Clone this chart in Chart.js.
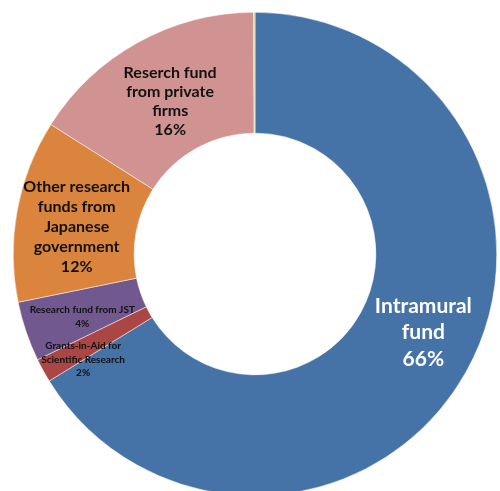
<!DOCTYPE html>
<html lang="en">
<head>
    <meta charset="UTF-8">
    <title>Research funds</title>
    <script src="https://cdn.jsdelivr.net/npm/chart.js@4.4.1/dist/chart.umd.min.js"></script>
    <style>
        html, body {
            margin: 0;
            padding: 0;
            background: #ffffff;
            overflow: hidden;
            width: 500px;
            height: 491px;
        }
        .chart-box {
            position: absolute;
            left: 0;
            top: 0;
            width: 510px;
            height: 508px;
        }
    </style>
</head>
<body>
    <div class="chart-box">
        <canvas id="fundChart"></canvas>
    </div>

    <script>
        // slices, clockwise from 12 o'clock
        const categories = [
            'Intramural fund',
            'Grants-in-Aid for Scientific Research',
            'Research fund from JST',
            'Other research funds from Japanese government',
            'Reserch fund from private firms',
            'Other'
        ];
        const shares = [66.2, 1.6, 4.0, 12.2, 15.9, 0.1];
        const labelLines = [
            ['Intramural', 'fund'],
            ['Grants-in-Aid for', 'Scientific Research'],
            ['Research fund from JST'],
            ['Other research', 'funds from', 'Japanese', 'government'],
            ['Reserch fund', 'from private', 'firms'],
            []
        ];
        const sliceColors = ['#4572A7', '#AA4643', '#71588F', '#DB843D', '#D19392', '#C9CF9C'];

        // label styling per slice: font size, line height, text colour, nudge
        const labelStyle = [
            { size: 21, lh: 26.5, color: '#ffffff', dx: 10, dy: -10 },
            { size: 10, lh: 13.5, color: '#111111', dx: -13, dy: 18 },
            { size: 10, lh: 14, color: '#111111', dx: -1, dy: 5 },
            { size: 16, lh: 20, color: '#111111', dx: 0, dy: 6 },
            { size: 16, lh: 19, color: '#111111', dx: 3, dy: 6 },
            null
        ];

        const sliceLabels = {
            id: 'sliceLabels',
            afterDatasetsDraw(chart) {
                const ctx = chart.ctx;
                const meta = chart.getDatasetMeta(0);
                meta.data.forEach((arc, i) => {
                    const st = labelStyle[i];
                    if (!st) return;
                    const lines = labelLines[i].concat([Math.round(shares[i]) + '%']);
                    const pos = arc.tooltipPosition();
                    const x = pos.x + st.dx;
                    let y = pos.y + st.dy - (lines.length - 1) * st.lh / 2;
                    ctx.save();
                    ctx.font = 'bold ' + st.size + 'px Lato, "Open Sans", sans-serif';
                    ctx.fillStyle = st.color;
                    ctx.textAlign = 'center';
                    ctx.textBaseline = 'middle';
                    lines.forEach(line => {
                        ctx.fillText(line, x, y);
                        y += st.lh;
                    });
                    ctx.restore();
                });
            }
        };

        new Chart(document.getElementById('fundChart'), {
            type: 'doughnut',
            data: {
                labels: categories,
                datasets: [{
                    data: shares,
                    backgroundColor: sliceColors,
                    borderColor: '#ffffff',
                    borderWidth: 0.5
                }]
            },
            options: {
                responsive: true,
                maintainAspectRatio: false,
                animation: false,
                cutout: '50%',
                layout: { padding: 12 },
                plugins: {
                    legend: { display: false },
                    tooltip: { enabled: false }
                }
            },
            plugins: [sliceLabels]
        });
    </script>
</body>
</html>
